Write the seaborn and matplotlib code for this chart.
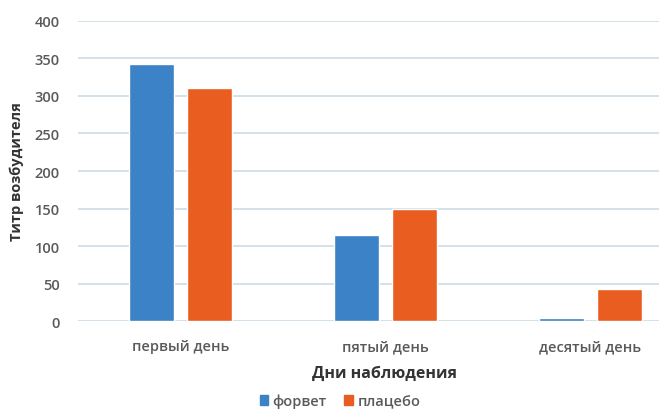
import matplotlib
matplotlib.use("Agg")
import matplotlib.pyplot as plt
import seaborn as sns
import pandas as pd

categories = ["первый день", "пятый день", "десятый день"]
series_names = ["форвет", "плацебо"]
forvet = [343, 115, 4]
placebo = [311, 149, 43]
yticks = [0, 50, 100, 150, 200, 250, 300, 350, 400]

df = pd.DataFrame({
    "day": categories * 2,
    "group": [series_names[0]] * 3 + [series_names[1]] * 3,
    "value": forvet + placebo,
})

sns.set_theme(style="white")
plt.rcParams['font.family'] = ['Open Sans', 'DejaVu Sans']

fig = plt.figure(figsize=(6.59, 4.14), dpi=100)
ax = fig.add_axes([78/659, 0.222, 615/659, 0.725])

palette = {"форвет": "#3B82C6", "плацебо": "#E95E20"}
sns.barplot(data=df, x="day", y="value", hue="group", order=categories,
            hue_order=series_names, palette=palette, width=0.566, gap=0.21,
            ax=ax, saturation=1, legend=False)

ax.set_ylim(0, 400)
ax.set_yticks(yticks)
ax.set_xlim(-0.5, 2.5)
ax.grid(axis="y", color="#C9D9E2", linewidth=1.1)
ax.set_axisbelow(True)
for s in ax.spines.values():
    s.set_visible(False)
txtc = "#5A5A5A"
ax.tick_params(axis="y", length=0, pad=13, labelsize=10.5, labelcolor=txtc)
ax.tick_params(axis="x", length=0, pad=13, labelsize=10.5, labelcolor=txtc)
for lab in ax.get_yticklabels() + ax.get_xticklabels():
    lab.set_fontweight("semibold")

ax.set_ylabel("Титр возбудителя", fontsize=10.5, fontweight="bold", color="#333333", labelpad=8)
fig.text(385/659, 1 - 374/414, "Дни наблюдения", ha="center", va="center",
         fontsize=11.5, fontweight="bold", color="#333333")
ax.set_xlabel("")

from matplotlib.patches import Patch
handles = [Patch(color=palette[n], label=n) for n in series_names]
fig.legend(handles=handles, loc="center", bbox_to_anchor=(340/659, 1 - 402/414),
           ncol=2, frameon=False, fontsize=10.5, handlelength=0.6, handleheight=0.6,
           handletextpad=0.3, columnspacing=1.2, labelcolor=txtc,
           prop={"weight": "semibold", "size": 10.5})

fig.savefig("out.png", dpi=100)
